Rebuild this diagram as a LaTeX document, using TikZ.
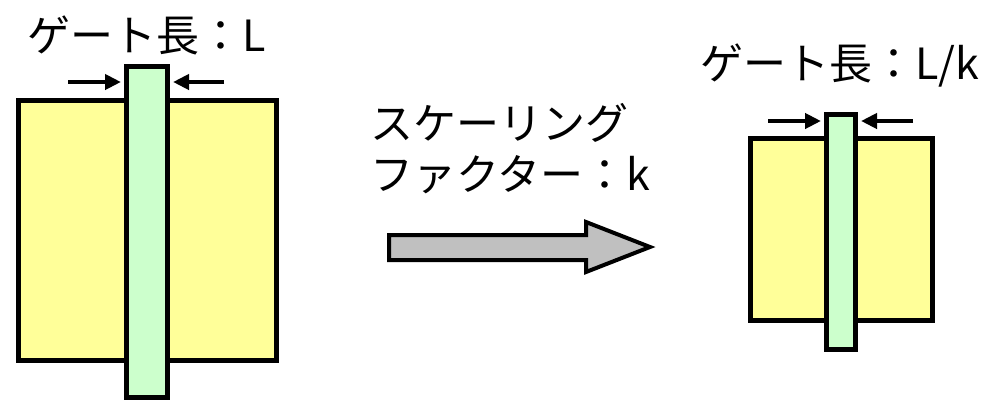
\documentclass[tikz,border=0pt]{standalone}
\usepackage{fontspec}
\setmainfont{Noto Sans CJK JP}
\usetikzlibrary{arrows.meta}
\definecolor{sub}{HTML}{FFFF99}
\definecolor{gatec}{HTML}{CCFFCC}
\definecolor{arrg}{HTML}{C0C0C0}
\tikzset{
  subbox/.style={draw=black, fill=sub, line width=5pt},
  gatebox/.style={draw=black, fill=gatec, line width=5pt},
  dimarrow/.style={line width=4pt, -{Triangle[length=16pt,width=15pt]}},
  lbl/.style={font=\fontsize{43}{50}\selectfont, inner sep=0pt, anchor=center},
}
\begin{document}
\begin{tikzpicture}[x=1pt,y=-1pt]
\useasboundingbox (0,0) rectangle (985,400);
% left device
\draw[subbox] (18.5,100.5) rectangle (276.5,360.5);
\draw[gatebox] (126.5,66.5) rectangle (167.5,397.5);
\coordinate (la1) at (68,82); \coordinate (la2) at (121,82);
\coordinate (ra1) at (224,82); \coordinate (ra2) at (173,82);
\draw[dimarrow] (la1) -- (la2);
\draw[dimarrow] (ra1) -- (ra2);
\node[lbl] (t1) at (147,35) {ゲート長：L};
% middle
\node[lbl, anchor=west] (s1) at (370,123) {スケーリング};
\node[lbl, anchor=west] (s2) at (370,175) {ファクター：k};
\draw[line width=4pt, fill=arrg, line join=miter]
  (389,235) -- (586,235) -- (586,222) -- (650,247) -- (586,272) -- (586,260) -- (389,260) -- cycle;
% right device
\draw[subbox] (750.5,138.5) rectangle (932.5,320.5);
\draw[gatebox] (826.5,114.5) rectangle (855.5,349.5);
\coordinate (lb1) at (768,121); \coordinate (lb2) at (821,121);
\coordinate (rb1) at (913,121); \coordinate (rb2) at (861,121);
\draw[dimarrow] (lb1) -- (lb2);
\draw[dimarrow] (rb1) -- (rb2);
\node[lbl] (t2) at (840,65) {ゲート長：L/k};
\end{tikzpicture}
\end{document}
